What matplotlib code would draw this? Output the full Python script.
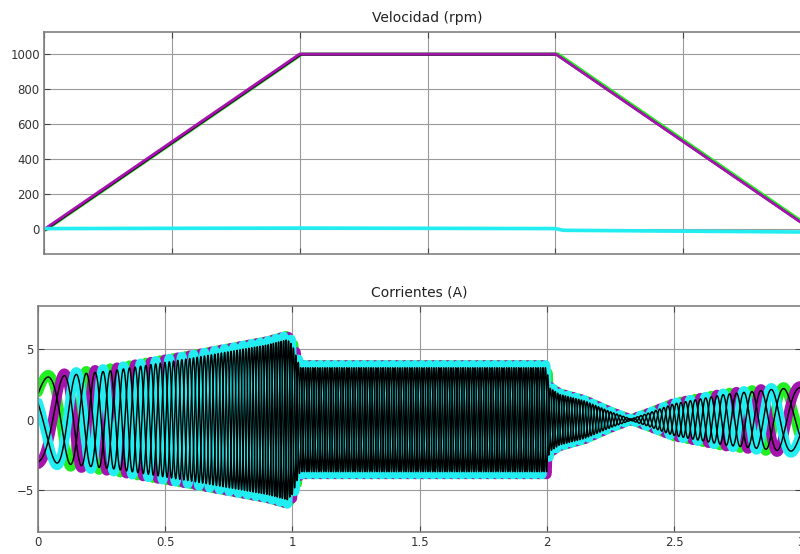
import numpy as np
import matplotlib
matplotlib.use("Agg")
import matplotlib.pyplot as plt

# velocidad (rpm): puntos
speed_t = [0.0, 1.0, 2.0, 3.0]
speed_rpm = [0, 1000, 1000, 0]
low_t = [0.0, 1.0, 2.0, 2.03, 3.0]
low_rpm = [5, 8, 5, -5, -15]

# corrientes (A): envolvente y frecuencia electrica
amp_t = [0.0, 0.05, 0.3, 0.6, 0.9, 0.98, 1.0, 1.03, 2.0, 2.01, 2.05, 2.15, 2.25, 2.33, 2.4, 2.5, 2.7, 2.9, 3.0]
amp_A = [3.2, 3.2, 3.7, 4.6, 5.6, 6.0, 5.6, 3.9, 3.9, 2.4, 1.9, 1.4, 0.6, 0.05, 0.5, 1.2, 1.9, 2.3, 2.4]
freq_t = [0.0, 1.0, 2.0, 3.0]
freq_hz = [3, 35, 35, 4]

xticks = [0, 0.5, 1, 1.5, 2, 2.5, 3]
xlabels = ["0", "0.5", "1", "1.5", "2", "2.5", "3"]

t = np.linspace(0, 3, 12001)
dt = t[1] - t[0]
amp = np.interp(t, amp_t, amp_A)
theta = 2 * np.pi * np.cumsum(np.interp(t, freq_t, freq_hz)) * dt + 0.65
ia = amp * np.sin(theta)
ib = amp * np.sin(theta - 2 * np.pi / 3)
ic = amp * np.sin(theta - 4 * np.pi / 3)

fig = plt.figure(figsize=(8, 5.54), dpi=100)
ax1 = fig.add_axes([0.055, 0.5415, 0.959, 0.4007])
ax2 = fig.add_axes([0.0475, 0.0397, 0.954, 0.408])

green = "#22ee22"
mag = "#a413ac"
cyan = "#22eef2"

# velocidad
ax1.plot(np.array(speed_t) + 0.01, speed_rpm, color=green, lw=2.2)
ax1.plot(np.array(speed_t) + 0.004, np.array(speed_rpm) - 4, color="#300030", lw=1.6)
ax1.plot(speed_t, speed_rpm, color=mag, lw=2.0)
ax1.plot(low_t, low_rpm, color=cyan, lw=2.6)
ax1.set_xlim(0, 3)
ax1.set_ylim(-140, 1125)
ax1.set_yticks([0, 200, 400, 600, 800, 1000])
ax1.set_xticks(xticks)
ax1.set_xticklabels([])
ax1.set_title("Velocidad (rpm)", fontsize=10, color="#222222", pad=7)

# corrientes: tres fases en trazo grueso y las mismas en negro fino encima
for y, c in [(ia, green), (ib, mag), (ic, cyan)]:
    ax2.plot(t, y, color=c, lw=7, solid_capstyle="round")
for y in (ia, ib, ic):
    ax2.plot(t, 0.95 * y, color="black", lw=1.05)
ax2.set_xlim(0, 3)
ax2.set_ylim(-8, 8.1)
ax2.set_yticks([-5, 0, 5])
ax2.set_xticks(xticks)
ax2.set_xticklabels(xlabels)
ax2.set_title("Corrientes (A)", fontsize=10, color="#222222", pad=7)

for ax in (ax1, ax2):
    ax.grid(True, color="#9a9a9a", lw=0.8)
    ax.set_axisbelow(True)
    ax.tick_params(direction="in", length=4, width=0.8, color="#444444",
                   labelsize=8.5, labelcolor="#333333", pad=3,
                   top=True, right=True)
    for s in ax.spines.values():
        s.set_color("#808080")
        s.set_linewidth(1.2)

fig.savefig("out.png", dpi=100)
